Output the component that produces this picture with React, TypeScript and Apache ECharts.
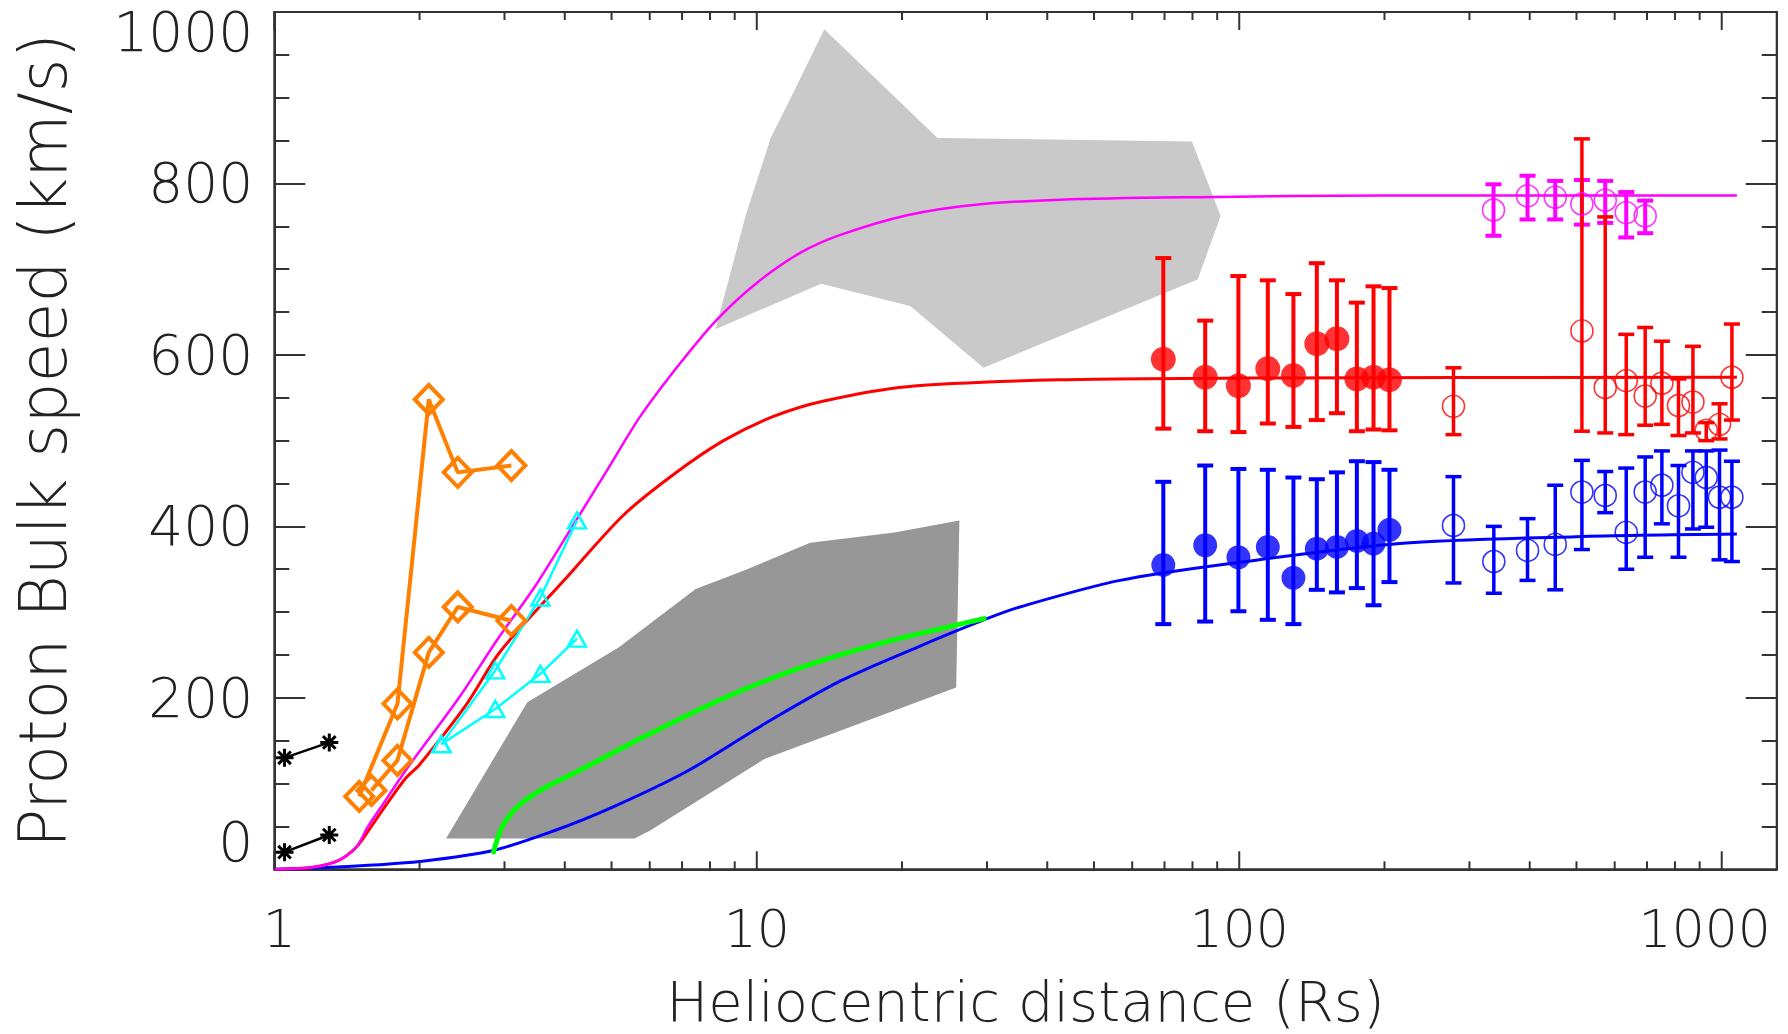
import React, { useEffect, useRef } from "react";
import * as echarts from "echarts";

// ---- data ----
const asteriskX = [1.05, 1.3];
const asteriskUpper = [130, 148];
const asteriskLower = [20, 40];

const orangeUpperX = [1.5, 1.8, 2.09, 2.4, 3.1];
const orangeUpperY = [85, 193, 548, 463, 471];
const orangeLowerX = [1.59, 1.8, 2.09, 2.4, 3.1];
const orangeLowerY = [92, 127, 253, 306, 290];

const cyanX = [2.22, 2.87, 3.56, 4.24];
const cyanUpperY = [146, 232, 317, 407];
const cyanLowerY = [146, 187, 228, 269];

const lightGrayX = [8.21, 9.5, 10.7, 12.05, 13.8, 23.7, 79.8, 91.5, 82.0, 29.5, 20.8, 13.6];
const lightGrayY = [630, 764, 854, 912, 980, 853, 849, 762, 688, 585, 657, 683];

const darkGrayX = [2.27, 3.345, 5.18, 7.47, 9.47, 12.9, 19.3, 26.3, 25.9, 10.4, 6.0, 5.58];
const darkGrayY = [36, 195, 259, 327, 349, 381, 393, 407, 212, 129, 45, 36];

const greenX = [2.84, 2.97, 3.22, 3.66, 4.16, 6.0, 8.65, 12.46, 17.9, 29.9];
const greenY = [18, 50, 75, 96, 111.5, 158, 201, 236, 263, 293];

const blueX = [1, 1.28, 1.6, 2.0, 2.84, 3.8, 5.0, 7.2, 10.4, 14.95, 21.5, 29.9, 35.1, 56.6, 100, 215, 500, 1075];
const blueY = [0, 2, 5, 9, 22, 45, 72, 115, 170, 220, 259, 292, 306, 337, 358, 380, 388, 391];

const magentaX = [1, 1.2, 1.36, 1.48, 1.56, 1.68, 1.87, 2.42, 2.9, 3.48, 4.17, 4.89, 5.73, 6.93, 8.26, 10, 12.3, 14.9, 20.5, 28.1, 42.5, 82, 200, 1075];
const magentaY = [0, 2.5, 10.5, 26, 49, 76, 115, 201, 268, 331, 402, 465, 528, 590, 641, 684, 719, 740, 763, 775, 781, 784, 786, 786];

const redX = [1, 1.2, 1.36, 1.48, 1.58, 1.7, 1.87, 2.0, 2.5, 2.94, 4.0, 5.29, 6.7, 8.53, 10.8, 13.7, 20.5, 42.5, 100, 1075];
const redY = [0, 2.5, 10.5, 26, 48, 74, 106, 122, 192, 254, 338, 413, 460, 500, 528, 546, 563, 571, 573, 574];

const filledX = [69.6, 85.0, 99.6, 114.6, 129.5, 144.8, 159.4, 175.3, 189.8, 204.8];
const redFilled = [595, 574, 564, 584, 576, 613, 619, 572, 574, 571];
const redFilledHi = [713, 640, 692, 687, 671, 707, 687, 661, 680, 678];
const redFilledLo = [514, 511, 510, 520, 516, 524, 532, 511, 513, 512];
const blueFilled = [355, 378, 364, 376, 340, 374, 376, 383, 380, 396];
const blueFilledHi = [452, 471, 467, 466, 457, 455, 463, 476, 475, 466];
const blueFilledLo = [286, 289, 301, 291, 286, 326, 323, 328, 308, 335];

const magentaOpenX = [336.5, 395.8, 451.8, 513.1, 573.5, 634, 694];
const magentaOpen = [769, 785.5, 784, 776, 780.5, 766, 762];
const magentaOpenHi = [799, 809, 803, 804, 803, 790, 780];
const magentaOpenLo = [739, 758, 758, 752, 754, 737, 742];

const redOpenX = [278, 513.1, 573.5, 634, 694, 751.6, 813.6, 871.6, 928.8, 989.5, 1049.8];
const redOpen = [540, 628, 562, 570, 552, 567, 541, 545, 512, 519, 574];
const redOpenHi = [585, 852, 761, 624, 632, 616, 572, 610, 521, 543, 636];
const redOpenLo = [507, 511, 509, 507, 518, 519, 506, 509, 500, 502, 524];

const blueOpenX = [278, 337, 395.8, 451.8, 513.1, 573.5, 634, 694, 751.6, 813.6, 871.6, 928.8, 989.5, 1049.8];
const blueOpen = [401, 359, 372, 379, 440, 436, 393, 440, 448, 424, 463, 457, 434, 434];
const blueOpenHi = [458, 400, 409, 448, 477, 464, 468, 481, 488, 471, 488, 488, 489, 476];
const blueOpenLo = [334, 322, 337, 326, 373, 416, 350, 364, 403, 364, 397, 399, 361, 359];

const xTickValues = [1, 2, 3, 4, 5, 6, 7, 8, 9, 10, 20, 30, 40, 50, 60, 70, 80, 90, 100, 200, 300, 400, 500, 600, 700, 800, 900, 1000];
const xLabelValues = [1, 10, 100, 1000];

const X_TITLE = "Heliocentric distance (Rs)";
const Y_TITLE = "Proton Bulk speed (km/s)";

// ---- styling ----
const FONT = "DejaVu Sans";
const WEIGHT = 200;
const TEXT = "#222222";
const AXIS = "#333333";
const ORANGE = "#ff8000";
const CYAN = "#00ffff";
const MAGENTA = "#ff00ff";
const RED = "#ff0000";
const BLUE = "#0000ff";
const GREEN = "#00ff00";

const pairs = (xs: number[], ys: number[]) => xs.map((x, i) => [x, ys[i]]);
const triples = (xs: number[], lo: number[], hi: number[]) => xs.map((x, i) => [x, lo[i], hi[i]]);

function polygonSeries(xs: number[], ys: number[], fill: string, z: number) {
  return {
    type: "custom",
    z,
    silent: true,
    clip: true,
    data: [[xs[0], ys[0]]],
    encode: { x: 0, y: 1 },
    renderItem: (_p: any, api: any) => {
      const points = xs.map((x, i) => api.coord([x, ys[i]]));
      return { type: "polygon", shape: { points }, style: { fill } };
    },
  };
}

function lineSeries(xs: number[], ys: number[], color: string, width: number, z: number) {
  return {
    type: "line",
    z,
    data: pairs(xs, ys),
    showSymbol: false,
    smooth: 0.3,
    lineStyle: { color, width },
    silent: true,
  };
}

function errorBarSeries(xs: number[], lo: number[], hi: number[], color: string, width: number, z: number) {
  return {
    type: "custom",
    z,
    silent: true,
    data: triples(xs, lo, hi),
    encode: { x: 0, y: [1, 2] },
    renderItem: (_p: any, api: any) => {
      const x = api.value(0);
      const a = api.coord([x, api.value(1)]);
      const b = api.coord([x, api.value(2)]);
      const w = 8;
      const style = { stroke: color, lineWidth: width };
      return {
        type: "group",
        children: [
          { type: "line", shape: { x1: a[0], y1: a[1], x2: b[0], y2: b[1] }, style },
          { type: "line", shape: { x1: a[0] - w, y1: a[1], x2: a[0] + w, y2: a[1] }, style },
          { type: "line", shape: { x1: b[0] - w, y1: b[1], x2: b[0] + w, y2: b[1] }, style },
        ],
      };
    },
  };
}

function scatterSeries(xs: number[], ys: number[], color: string, filled: boolean, size: number, z: number) {
  return {
    type: "scatter",
    z,
    silent: true,
    data: pairs(xs, ys),
    symbol: "circle",
    symbolSize: size,
    itemStyle: filled
      ? { color }
      : { color: "rgba(0,0,0,0)", borderColor: color, borderWidth: 1.6 },
  };
}

function markerLine(xs: number[], ys: number[], color: string, symbol: string, size: number | number[], lw: number, bw: number, z: number) {
  return {
    type: "line",
    z,
    silent: true,
    data: pairs(xs, ys),
    showSymbol: true,
    symbol,
    symbolSize: size,
    lineStyle: { color, width: lw },
    itemStyle: { color: "rgba(0,0,0,0)", borderColor: color, borderWidth: bw },
  };
}

const ASTERISK = "path://M10,0L10,20M0,10L20,10M3,3L17,17M3,17L17,3";

export default function App() {
  const ref = useRef<HTMLDivElement>(null);
  useEffect(() => {
    if (!ref.current) return;
    const chart = echarts.init(ref.current, null, { renderer: "svg" });

    const isPow10 = (v: number) => {
      const l = Math.log10(v);
      return Math.abs(l - Math.round(l)) < 1e-6;
    };

    const xFont = { fontSize: 52, color: TEXT, fontFamily: FONT, fontWeight: WEIGHT };
    const yFont = { fontSize: 55, color: TEXT, fontFamily: FONT, fontWeight: WEIGHT };

    const yAxisCommon = {
      type: "value",
      min: 0,
      max: 1000,
      interval: 200,
      splitLine: { show: false },
      axisLine: { show: true, lineStyle: { color: AXIS, width: 2 } },
      axisTick: { show: true, inside: true, length: 31, lineStyle: { color: AXIS, width: 2 } },
      minorTick: { show: true, splitNumber: 4, length: 15, lineStyle: { color: AXIS, width: 2 } },
    };

    const option: any = {
      animation: false,
      backgroundColor: "#ffffff",
      textStyle: { fontFamily: FONT, fontWeight: WEIGHT },
      grid: {
        left: 274.3,
        right: 11.3,
        top: 12,
        bottom: 164.7,
        show: true,
        borderColor: AXIS,
        borderWidth: 2,
        outerBoundsMode: "none",
      },
      xAxis: {
        type: "log",
        logBase: 10,
        min: 1,
        max: 1300,
        name: X_TITLE,
        nameLocation: "middle",
        nameGap: 104,
        nameTextStyle: { fontSize: 56, color: TEXT, fontFamily: FONT, fontWeight: WEIGHT },
        axisLine: { show: true, lineStyle: { color: AXIS, width: 2 } },
        axisTick: { show: false },
        minorTick: { show: false },
        splitLine: { show: false },
        axisLabel: {
          ...xFont,
          margin: 34,
          formatter: (v: number) => {
            if (!isPow10(v)) return "";
            const r = Math.round(v);
            if (!xLabelValues.includes(r)) return "";
            if (r === 1) return "{first|1}";
            if (r === 1000) return "{last|1000}";
            return "{mid|" + r + "}";
          },
          rich: {
            first: { ...xFont, padding: [0, 0, 0, 10] },
            mid: { ...xFont },
            last: { ...xFont, padding: [0, 34, 0, 0] },
          },
        },
      },
      yAxis: [
        {
          ...yAxisCommon,
          position: "left",
          name: Y_TITLE,
          nameLocation: "middle",
          nameGap: 198,
          nameRotate: 90,
          nameTextStyle: { fontSize: 65, color: TEXT, fontFamily: FONT, fontWeight: WEIGHT },
          axisLabel: {
            ...yFont,
            margin: 21,
            formatter: (v: number) => {
              const r = Math.round(v);
              if (r === 1000) return "{top|1000}";
              return "{n|" + r + "}";
            },
            rich: {
              top: { ...yFont, lineHeight: 40 },
              n: { ...yFont },
            },
            verticalAlignMinLabel: "bottom",
            verticalAlignMaxLabel: "top",
          },
        },
        {
          ...yAxisCommon,
          position: "right",
          axisLabel: { show: false },
        },
      ],
      series: [
        polygonSeries(lightGrayX, lightGrayY, "#c9c9c9", 1),
        polygonSeries(darkGrayX, darkGrayY, "#979797", 1),
        lineSeries(blueX, blueY, BLUE, 3, 3),
        lineSeries(redX, redY, RED, 3, 3),
        lineSeries(magentaX, magentaY, MAGENTA, 2.5, 4),
        lineSeries(greenX, greenY, GREEN, 5, 5),
        markerLine(asteriskX, asteriskUpper, "#000000", ASTERISK, 18, 2.5, 3, 6),
        markerLine(asteriskX, asteriskLower, "#000000", ASTERISK, 18, 2.5, 3, 6),
        markerLine(orangeUpperX, orangeUpperY, ORANGE, "diamond", [28, 29], 4, 4, 6),
        markerLine(orangeLowerX, orangeLowerY, ORANGE, "diamond", [28, 29], 4, 4, 6),
        markerLine(cyanX, cyanUpperY, CYAN, "triangle", [18, 16], 2.5, 2.5, 6),
        markerLine(cyanX, cyanLowerY, CYAN, "triangle", [18, 16], 2.5, 2.5, 6),
        errorBarSeries(filledX, redFilledLo, redFilledHi, RED, 4, 7),
        errorBarSeries(filledX, blueFilledLo, blueFilledHi, BLUE, 4, 7),
        errorBarSeries(magentaOpenX, magentaOpenLo, magentaOpenHi, MAGENTA, 4, 7),
        errorBarSeries(redOpenX, redOpenLo, redOpenHi, RED, 3.5, 7),
        errorBarSeries(blueOpenX, blueOpenLo, blueOpenHi, BLUE, 3.5, 7),
        scatterSeries(filledX, redFilled, RED, true, 25, 8),
        scatterSeries(filledX, blueFilled, BLUE, true, 24, 8),
        scatterSeries(magentaOpenX, magentaOpen, MAGENTA, false, 22, 8),
        scatterSeries(redOpenX, redOpen, RED, false, 22, 8),
        scatterSeries(blueOpenX, blueOpen, BLUE, false, 22, 8),
        {
          type: "custom",
          z: 10,
          silent: true,
          clip: false,
          data: xTickValues.map((v) => [v, isPow10(v) ? 1 : 0]),
          encode: { x: 0, y: 1 },
          renderItem: (_p: any, api: any) => {
            const v = api.value(0);
            const major = api.value(1) === 1;
            const len = major ? 18 : 8;
            const b = api.coord([v, 0]);
            const t = api.coord([v, 1000]);
            const style = { stroke: AXIS, lineWidth: 2 };
            return {
              type: "group",
              children: [
                { type: "line", shape: { x1: b[0], y1: b[1], x2: b[0], y2: b[1] - len }, style },
                { type: "line", shape: { x1: t[0], y1: t[1], x2: t[0], y2: t[1] + len }, style },
              ],
            };
          },
        },
      ],
    };

    chart.setOption(option);
    return () => chart.dispose();
  }, []);

  return (
    <div
      ref={ref}
      style={{ position: "fixed", left: 0, top: 0, width: 1788, height: 1034, background: "#fff" }}
    />
  );
}
